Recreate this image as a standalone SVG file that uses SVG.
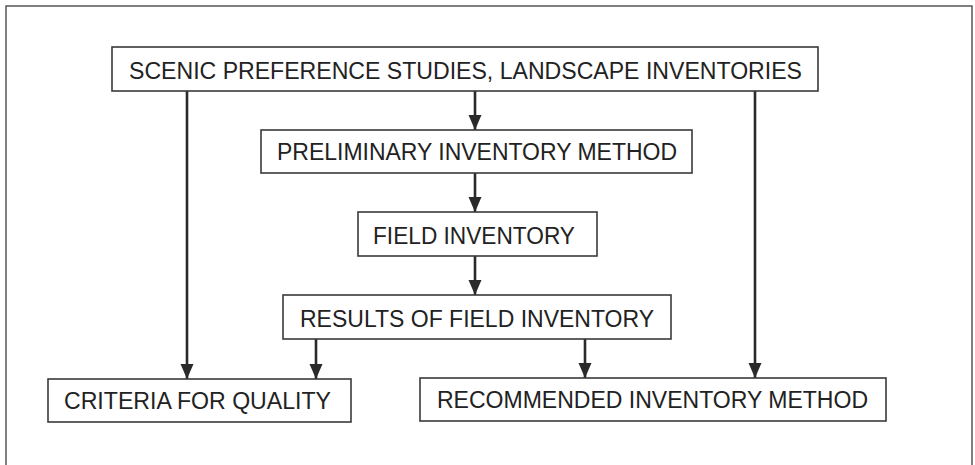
<svg xmlns="http://www.w3.org/2000/svg" width="975" height="465" viewBox="0 0 975 465">
  <style>
    .frame { fill: none; stroke: #555; stroke-width: 1.5; }
    .box { fill: #fff; stroke: #3a3a3a; stroke-width: 1.6; }
    .label { font-family: "Liberation Sans", Arial, Helvetica, sans-serif; font-size: 23px; fill: #222; text-anchor: start; }
    .conn { stroke: #2a2a2a; stroke-width: 2.6; fill: none; marker-end: url(#arrow); }
  </style>
  <defs>
    <marker id="arrow" markerUnits="userSpaceOnUse" markerWidth="16" markerHeight="16" refX="15" refY="6.5" orient="auto">
      <path d="M0,0 L15,6.5 L0,13 Z" fill="#2a2a2a"/>
    </marker>
  </defs>

  <rect width="975" height="465" fill="#fff"/>
  <!-- outer frame, bottom edge runs past the page -->
  <path class="frame" d="M6,470 L6,6 L972,6 L972,470"/>

  <g id="connectors">
    <line class="conn" x1="475" y1="91" x2="475" y2="130"/>
    <line class="conn" x1="475" y1="173" x2="475" y2="212"/>
    <line class="conn" x1="475" y1="256" x2="475" y2="295"/>
    <line class="conn" x1="187" y1="91" x2="187" y2="379"/>
    <line class="conn" x1="316" y1="339" x2="316" y2="379"/>
    <line class="conn" x1="585" y1="339" x2="585" y2="378"/>
    <line class="conn" x1="755" y1="91" x2="755" y2="378"/>
  </g>

  <g id="scenic-preference">
    <rect class="box" x="112" y="47" width="706" height="44"/>
    <text class="label" x="129" y="79" textLength="673" lengthAdjust="spacingAndGlyphs">SCENIC PREFERENCE STUDIES, LANDSCAPE INVENTORIES</text>
  </g>

  <g id="preliminary-method">
    <rect class="box" x="261" y="130" width="431" height="43"/>
    <text class="label" x="277" y="160" textLength="400" lengthAdjust="spacingAndGlyphs">PRELIMINARY INVENTORY METHOD</text>
  </g>

  <g id="field-inventory">
    <rect class="box" x="358" y="212" width="239" height="44"/>
    <text class="label" x="373" y="244" textLength="202" lengthAdjust="spacingAndGlyphs">FIELD INVENTORY</text>
  </g>

  <g id="field-results">
    <rect class="box" x="283" y="295" width="388" height="44"/>
    <text class="label" x="300" y="327" textLength="354" lengthAdjust="spacingAndGlyphs">RESULTS OF FIELD INVENTORY</text>
  </g>

  <g id="quality-criteria">
    <rect class="box" x="48" y="379" width="303" height="43"/>
    <text class="label" x="64" y="409" textLength="267" lengthAdjust="spacingAndGlyphs">CRITERIA FOR QUALITY</text>
  </g>

  <g id="recommended-method">
    <rect class="box" x="420" y="378" width="466" height="43"/>
    <text class="label" x="437" y="408" textLength="431" lengthAdjust="spacingAndGlyphs">RECOMMENDED INVENTORY METHOD</text>
  </g>
</svg>
